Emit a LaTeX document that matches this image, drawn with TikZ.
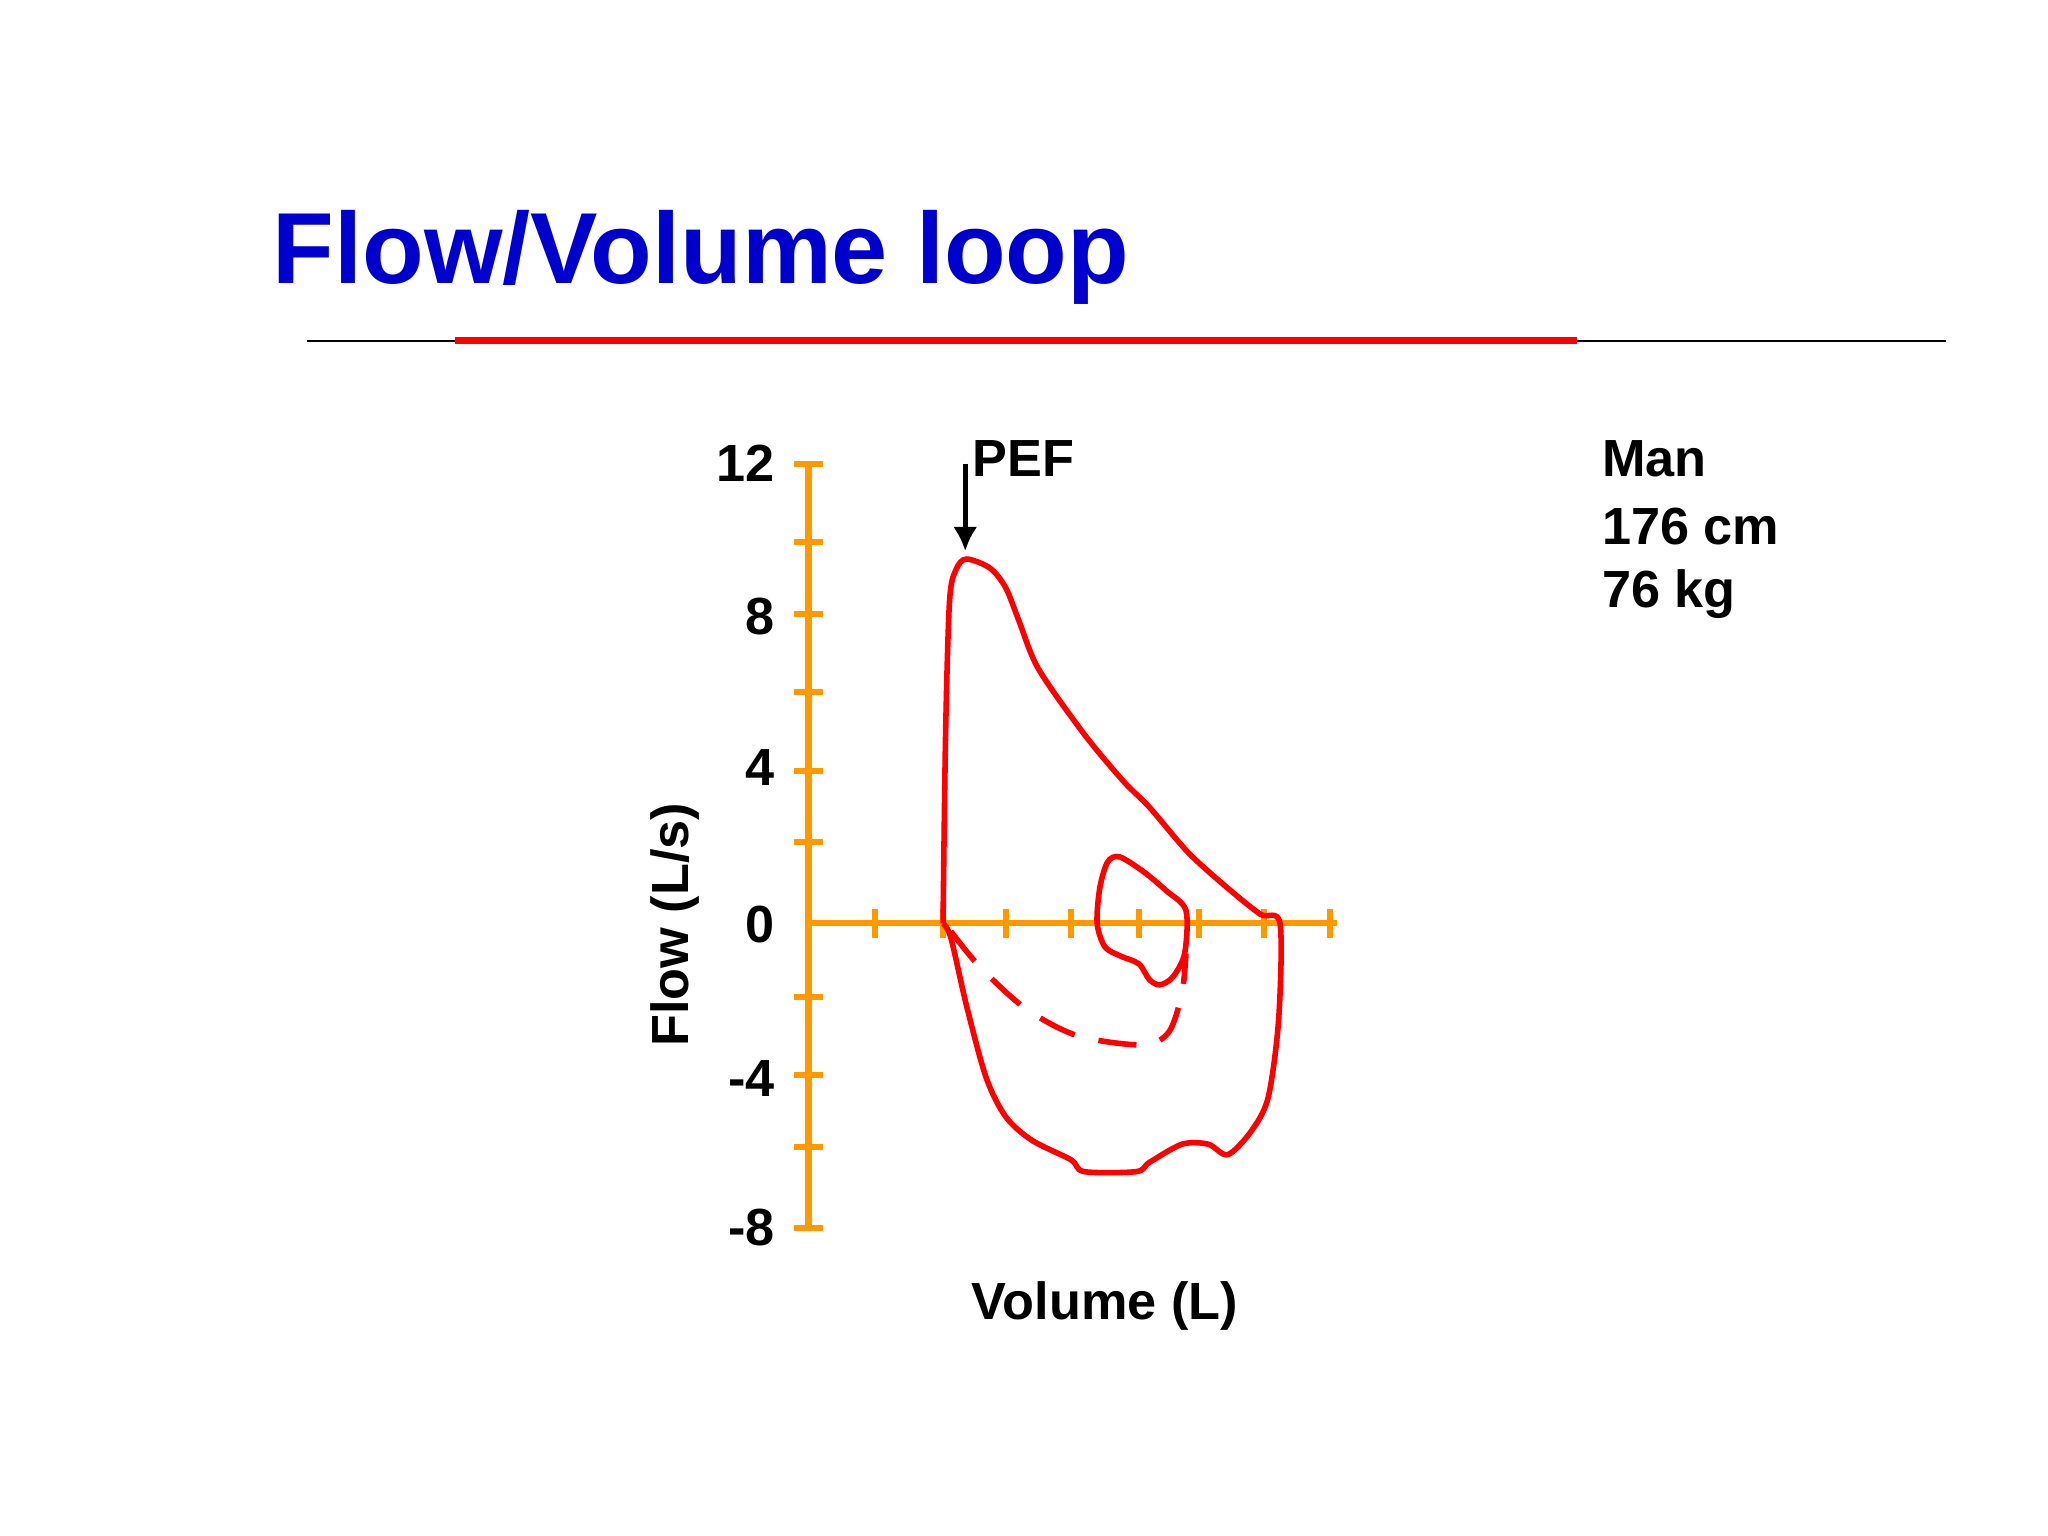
\documentclass[tikz,border=0pt]{standalone}
\usepackage{fontspec}
\setmainfont{Liberation Sans}
\usetikzlibrary{arrows.meta}
\begin{document}
\begin{tikzpicture}[x=0.75pt,y=-0.75pt,
  ax/.style={draw={rgb,255:red,255;green,153;blue,0},line width=3.5pt},
  crv/.style={draw=red,line width=3.2pt,line join=round},
  lbl/.style={font=\bfseries\fontsize{30}{34}\selectfont}]
\useasboundingbox (0,0) rectangle (1568,1176);
\node[anchor=west,text={rgb,255:red,0;green,0;blue,204},font=\bfseries\fontsize{58}{64}\selectfont] (title) at (204,197) {Flow/Volume loop};
\coordinate (l1) at (235,261); \coordinate (l2) at (1490,261);
\draw[line width=1.2pt] (l1) -- (l2);
\coordinate (r1) at (348,261); \coordinate (r2) at (1207,261);
\draw[red,line width=4pt] (r1) -- (r2);
% axes
\coordinate (yt) at (619,355); \coordinate (yb) at (619,940);
\coordinate (xl) at (619,707); \coordinate (xr) at (1024,707);
\draw[ax] (yt) -- (yb);
\draw[ax] (xl) -- (xr);
\foreach \y in {355,415,470,530,590,645,763,823,878,940} \draw[ax] (608,\y) -- (630,\y);
\foreach \x in {670,722,770,820,872,918,968,1018} \draw[ax] (\x,696) -- (\x,718);
\foreach \t/\y in {12/355,8/472,4/588,0/708,-4/826,-8/940}
  \node[lbl,anchor=east] at (598,\y) {\t};
\node[lbl,rotate=90] (fl) at (517,708) {Flow (L/s)};
\node[lbl] (vol) at (846,1000) {Volume (L)};
\node[lbl,anchor=west] (pef) at (740,351) {PEF};
\coordinate (pa) at (739,355); \coordinate (pb) at (739,422);
\draw[line width=3pt,-{Latex[length=14pt,width=14pt]}] (pa) -- (pb);
\node[lbl,anchor=west] (m1) at (1222,351) {Man};
\node[lbl,anchor=west] (m2) at (1222,403) {176 cm};
\node[lbl,anchor=west] (m3) at (1222,455) {76 kg};
% curves
\draw[crv] plot[smooth,tension=0.5] coordinates {(722,707) (724,560) (727,460) (732,436) (740,428) (758,435) (770,450) (780,475) (795,512) (830,562) (860,598) (880,618) (910,653) (940,680) (965,700) (980,707) (979,780) (971,840) (958,866) (940,884) (925,876) (905,876) (880,890) (870,897) (830,897) (820,888) (790,873) (770,855) (755,825) (740,770) (728,718) (722,707)};
\draw[crv] plot[smooth cycle,tension=0.5] coordinates {(840,707) (842,680) (848,660) (857,656) (875,667) (893,682) (908,697) (907,730) (898,748) (888,754) (880,750) (872,738) (858,732) (846,725)};
\draw[crv,dash pattern=on 22pt off 14pt] plot[smooth,tension=0.5] coordinates {(728,713) (750,740) (785,772) (825,793) (875,800) (895,790) (905,760) (908,730)};
\end{tikzpicture}
\end{document}
